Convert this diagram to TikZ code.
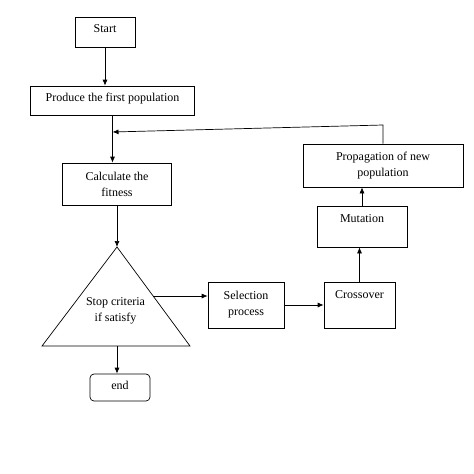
\documentclass[tikz,border=0pt]{standalone}
\usepackage{fontspec}
\setmainfont{Liberation Serif}
\usetikzlibrary{arrows.meta}
\usetikzlibrary{calc}
\tikzset{arr/.style = {-{Latex[length=6pt,width=5pt]}}}
\tikzset{box/.style = {draw, rectangle, inner sep=2pt, align=center}}

\begin{document}
\begin{tikzpicture}[x=1pt,y=-1pt,line width=0.7pt,font=\fontsize{12}{16}\selectfont]
        \useasboundingbox (0,0) rectangle (474,474);
        \node [box, minimum width=60pt, minimum height=30pt, text height=8pt, text depth=8pt] (start) at (105,32) {Start};
        \node [box, minimum width=163.6pt, minimum height=29pt, text height=8pt, text depth=5.6pt] (produce) at (112.5,100.5) {Produce the first population};
        \node [box, minimum width=109.4pt, minimum height=42pt] (calc) at (117,184) {Calculate the\\fitness};
        \coordinate (apex) at (117,247);
        \coordinate (bl) at (42,346);
        \coordinate (br) at (190,346);
        \draw (apex) -- (bl) -- (br) -- cycle;
        \node [align=center, inner sep=0] (crit) at (115.5,311) {Stop criteria\\if satisfy};
        \node [box, rounded corners=4pt, minimum width=60pt, minimum height=27pt, text height=8pt, text depth=4.4pt] (end) at (120,387.5) {end};
        \node [box, minimum width=76pt, minimum height=46pt] (sel) at (246,305) {Selection\\process};
        \node [box, minimum width=71pt, minimum height=46pt, text height=8pt, text depth=21.4pt] (cross) at (359.5,305) {Crossover};
        \node [box, minimum width=90pt, minimum height=41pt, text height=8pt, text depth=16.4pt] (mut) at (362,226.5) {Mutation};
        \node [box, minimum width=160pt, minimum height=43pt] (prop) at (383,165.5) {Propagation of new\\population};
        \coordinate (back) at (383,125);
        \coordinate (join) at (112.5,132);
        \coordinate (side) at ($(apex)!0.495!(br)$);
        \draw [arr] (start.south) -- (start.south |- produce.north);
        \draw [arr] (produce.south) -- (produce.south |- calc.north);
        \draw [arr] (prop.north) -- (back) -- (join);
        \draw [arr] (calc.south) -- (apex);
        \draw [arr] (side) -- (side -| sel.west);
        \draw [arr] (apex |- bl) -- (apex |- end.north);
        \draw [arr] (sel.east) -- (cross.west);
        \draw [arr] (cross.north) -- (cross.north |- mut.south);
        \draw [arr] (mut.north) -- (mut.north |- prop.south);
\end{tikzpicture}
\end{document}
